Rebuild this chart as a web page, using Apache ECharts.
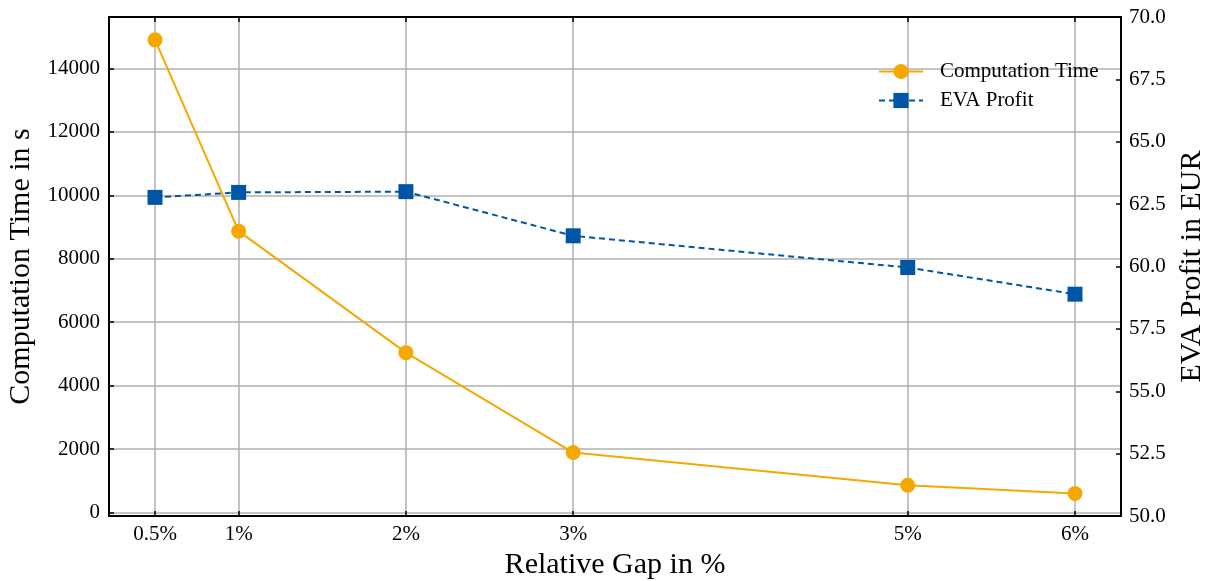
<!DOCTYPE html>
<html>
<head>
<meta charset="utf-8">
<script src="https://cdn.jsdelivr.net/npm/echarts@6/dist/echarts.min.js"></script>
<style>
  html, body { margin: 0; padding: 0; background: #ffffff; }
  #chart { width: 1207px; height: 581px; }
</style>
</head>
<body>
<div id="chart"></div>
<script>
// Relative optimality gap (%) used as the stopping criterion
const gaps = [0.5, 1, 2, 3, 5, 6];
// Solver run time in seconds for each gap
const computationTime = [14900, 8870, 5040, 1890, 860, 600];
// Resulting EVA profit in EUR for each gap
const evaProfit = [62.77, 62.97, 63.0, 61.23, 59.96, 58.89];
// Tick values
const xTicks = [0.5, 1, 2, 3, 5, 6];
const timeTicks = [0, 2000, 4000, 6000, 8000, 10000, 12000, 14000];

const FONT = '"Liberation Serif", "Times New Roman", serif';
const ORANGE = '#F5A800';
const BLUE = '#0055A4';
const GRID = '#b0b0b0';

const chart = echarts.init(document.getElementById('chart'), null, { renderer: 'canvas' });

const tickStyle = { show: true, inside: true, length: 5, lineStyle: { color: '#000', width: 1.5 } };

chart.setOption({
  animation: false,
  backgroundColor: '#ffffff',
  textStyle: { fontFamily: FONT },
  grid: { left: 109, right: 86, top: 17, bottom: 65, containLabel: false, outerBoundsMode: 'none' },
  legend: {
    orient: 'vertical',
    left: 873,
    top: 56,
    itemWidth: 44,
    itemHeight: 19,
    itemGap: 8,
    textStyle: { fontFamily: FONT, fontSize: 21, color: '#000', lineHeight: 21, padding: [0, 0, 0, 12] },
    data: ['Computation Time', 'EVA Profit']
  },
  xAxis: [
    {
      type: 'value',
      position: 'bottom',
      min: 0.225,
      max: 6.275,
      name: 'Relative Gap in %',
      nameLocation: 'middle',
      nameGap: 34,
      nameTextStyle: { fontFamily: FONT, fontSize: 30, color: '#000' },
      axisLine: { show: true, onZero: false, lineStyle: { color: '#000', width: 2 } },
      axisTick: Object.assign({ customValues: xTicks }, tickStyle),
      axisLabel: {
        customValues: xTicks,
        margin: 8,
        fontFamily: FONT, fontSize: 21, color: '#000',
        formatter: v => v + '%'
      },
      splitLine: { show: true, lineStyle: { color: GRID, width: 1.5 } }
    },
    {
      type: 'value',
      position: 'top',
      min: 0.225,
      max: 6.275,
      axisLine: { show: true, onZero: false, lineStyle: { color: '#000', width: 2 } },
      axisTick: Object.assign({ customValues: xTicks }, tickStyle),
      axisLabel: { show: false, customValues: xTicks },
      splitLine: { show: false }
    }
  ],
  yAxis: [
    {
      type: 'value',
      position: 'left',
      min: -110,
      max: 15620,
      name: 'Computation Time in s',
      nameLocation: 'middle',
      nameGap: 71,
      nameTextStyle: { fontFamily: FONT, fontSize: 30, color: '#000' },
      axisLine: { show: true, onZero: false, lineStyle: { color: '#000', width: 2 } },
      axisTick: Object.assign({ customValues: timeTicks }, tickStyle),
      axisLabel: {
        customValues: timeTicks, margin: 9, fontFamily: FONT, fontSize: 21, color: '#000',
        formatter: v => String(Math.round(v))
      },
      splitLine: { show: true, lineStyle: { color: GRID, width: 1.5 } }
    },
    {
      type: 'value',
      position: 'right',
      min: 50,
      max: 70,
      interval: 2.5,
      name: 'EVA Profit in EUR',
      nameLocation: 'middle',
      nameGap: 56,
      nameRotate: 90,
      nameTextStyle: { fontFamily: FONT, fontSize: 30, color: '#000' },
      axisLine: { show: true, onZero: false, lineStyle: { color: '#000', width: 2 } },
      axisTick: tickStyle,
      axisLabel: { margin: 8, fontFamily: FONT, fontSize: 21, color: '#000', formatter: v => v.toFixed(1) },
      splitLine: { show: false }
    }
  ],
  series: [
    {
      name: 'Computation Time',
      type: 'line',
      xAxisIndex: 0,
      yAxisIndex: 0,
      data: gaps.map((g, i) => [g, computationTime[i]]),
      symbol: 'circle',
      symbolSize: 15,
      itemStyle: { color: ORANGE },
      lineStyle: { color: ORANGE, width: 2 },
      z: 3
    },
    {
      name: 'EVA Profit',
      type: 'line',
      xAxisIndex: 0,
      yAxisIndex: 1,
      data: gaps.map((g, i) => [g, evaProfit[i]]),
      symbol: 'rect',
      symbolSize: 15,
      itemStyle: { color: BLUE },
      lineStyle: { color: BLUE, width: 2, type: [6, 4] },
      z: 4
    }
  ]
});
</script>
</body>
</html>
